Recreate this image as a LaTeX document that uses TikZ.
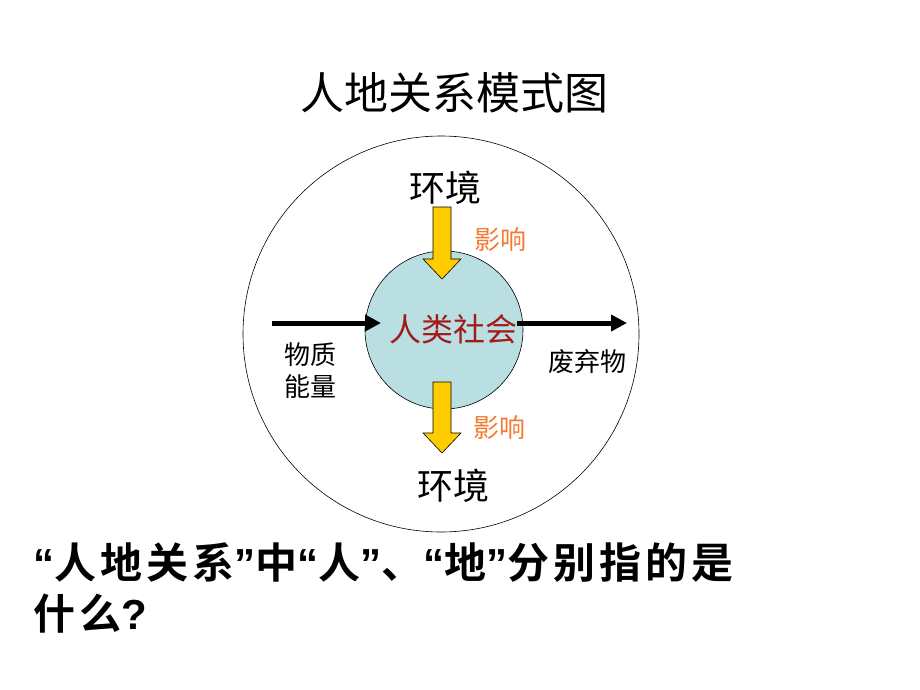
\documentclass[tikz,border=0pt]{standalone}
\usepackage{fontspec}
\setmainfont{Noto Sans CJK SC}
\newfontfamily\cjkbold{Noto Sans CJK SC Bold}[LetterSpace=9.5]
\newfontfamily\latinbold{Liberation Sans}[LetterSpace=9.5]
\newcommand{\hq}[1]{{\latinbold\bfseries #1}}
\usepackage{tikz}
\usepackage{xcolor}
\usetikzlibrary{arrows.meta}

\definecolor{societyblue}{HTML}{BADFE2}
\definecolor{flowyellow}{HTML}{FFCC00}
\definecolor{effectorange}{HTML}{F47A30}
\definecolor{societyred}{HTML}{A31A1A}

\tikzset{
  label26/.style={font=\fontsize{26}{32}\selectfont, align=center, inner sep=0pt},
  envlabel/.style={font=\fontsize{36}{40}\selectfont, inner sep=0pt},
  effect/.style={label26, text=effectorange},
  flow/.style={line width=5pt, -{Triangle[length=16pt,width=16pt]}},
  yellowarrow/.style={draw=black, fill=flowyellow, line width=0.6pt}
}

\begin{document}
\begin{tikzpicture}[x=1pt,y=-1pt]
    \useasboundingbox (0,0) rectangle (920,690);

    % Title
    \node (title) at (454,93) [font=\fontsize{44}{48}\selectfont] {人地关系模式图};

    % Circles
    \draw [line width=0.6pt] (441,334) circle [radius=198];
    \draw [line width=0.6pt, fill=societyblue] (444,330) circle [radius=79];
    \node (society) at (453,329) [font=\fontsize{32}{36}\selectfont,
        text=societyred, inner sep=0pt] {人类社会};

    % Environment labels
    \node (envtop) at (445,188) [envlabel] {环境};
    \node (envbottom) at (453,486) [envlabel] {环境};

    % Influence arrows
    \draw [yellowarrow] (433,207) -- (451,207) -- (451,259) -- (461,259)
        -- (442,279) -- (423,259) -- (433,259) -- cycle;
    \node (effecttop) at (500,240) [effect] {影响};
    \draw [yellowarrow] (433,382) -- (451,382) -- (451,433) -- (461,433)
        -- (442,453) -- (423,433) -- (433,433) -- cycle;
    \node (effectbottom) at (499,428) [effect] {影响};

    % Matter and energy in, waste out
    \coordinate (inflow) at (272,323);
    \coordinate (intip) at (381,323);
    \draw [flow] (inflow) -- (intip);
    \node (matter) at (310,371) [label26] {物质\\能量};
    \coordinate (outflow) at (517,323);
    \coordinate (outtip) at (627,323);
    \draw [flow] (outflow) -- (outtip);
    \node (waste) at (587,362) [label26] {废弃物};

    % Question
    \node (question) at (33,588) [anchor=west, align=left,
        font=\cjkbold\fontsize{42}{51}\selectfont, inner sep=0pt]
        {\hq{“}人地关系\hq{”}中\hq{“}人\hq{”}、\hq{“}地\hq{”}分别指的是\\什么\hq{?}};
\end{tikzpicture}
\end{document}
